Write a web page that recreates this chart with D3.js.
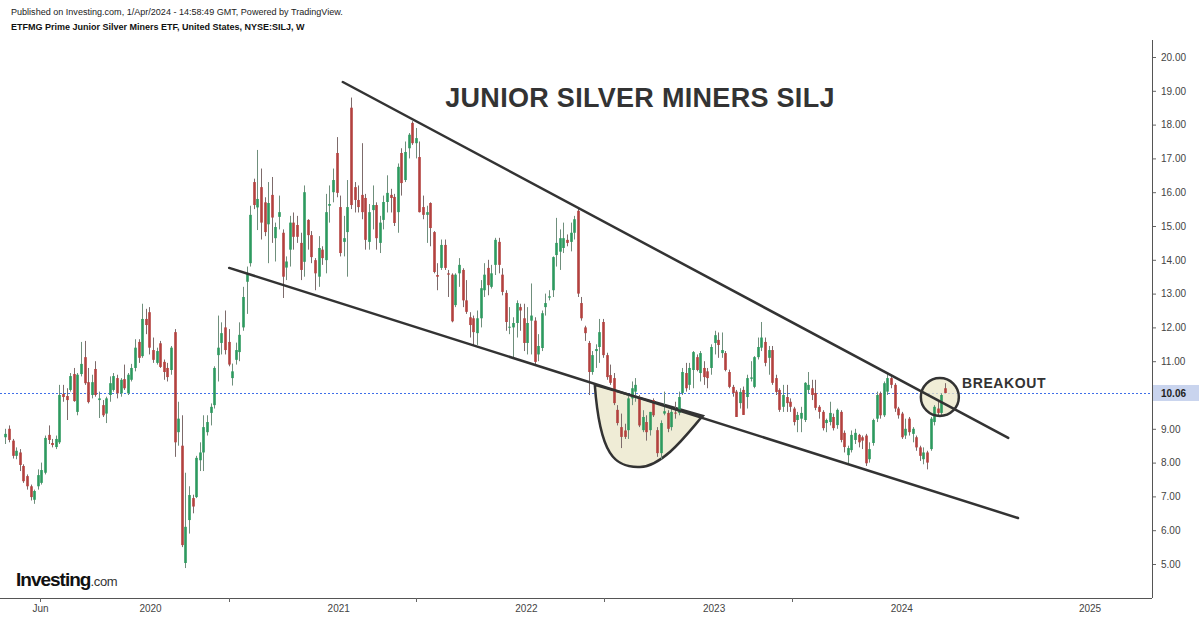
<!DOCTYPE html>
<html>
<head>
<meta charset="utf-8">
<script src="https://cdn.jsdelivr.net/npm/d3@7"></script>
<style>
  body { margin: 0; background: #fff; }
  svg { display: block; font-family: "Liberation Sans", Arial, sans-serif; }
</style>
</head>
<body>
<div id="chart"></div>
<script>
// Weekly SILJ candles, first week 2019-03-25, last week 2024-03-25
const firstWeek = new Date(Date.UTC(2019, 2, 25));
const lastWeek = new Date(Date.UTC(2024, 2, 26));

const opens = [
  8.75, 9.00, 8.65, 8.20, 8.30, 7.90, 7.60, 7.30, 6.90, 7.30,
  7.40, 7.70, 8.82, 8.58, 8.46, 8.60, 10.03, 9.97, 10.15, 10.62,
  9.50, 10.62, 11.12, 10.38, 10.00, 10.77, 9.85, 9.70, 9.45, 10.00,
  10.15, 10.50, 10.05, 10.47, 10.05, 10.45, 10.80, 11.57, 11.15, 12.25,
  12.45, 11.33, 10.95, 11.53, 10.98, 10.80, 10.74, 11.86, 8.90, 8.50,
  5.03, 6.30, 6.95, 6.98, 8.07, 8.30, 8.90, 9.47, 9.70, 11.18,
  11.54, 12.00, 11.57, 10.50, 11.04, 11.27, 12.00, 13.35, 13.90, 16.30,
  15.55, 16.15, 15.70, 15.05, 15.92, 14.64, 15.27, 14.80, 13.77, 14.30,
  15.10, 15.03, 14.50, 13.94, 15.18, 14.73, 13.99, 13.50, 14.30, 13.99,
  15.60, 16.00, 17.16, 15.56, 14.53, 14.82, 18.50, 16.15, 15.77, 15.92,
  15.83, 14.53, 15.47, 15.62, 14.50, 15.18, 15.71, 15.92, 15.86, 15.41,
  17.16, 16.36, 17.30, 18.05, 17.45, 17.04, 15.56, 15.33, 15.68, 14.82,
  13.55, 13.76, 14.44, 13.60, 13.56, 12.66, 13.60, 13.70, 12.80, 12.30,
  12.27, 11.83, 12.27, 13.10, 13.76, 13.20, 13.85, 14.53, 13.56, 13.02,
  12.00, 12.00, 12.13, 12.60, 12.27, 11.54, 12.20, 12.20, 11.20, 11.39,
  12.60, 12.88, 13.10, 14.14, 14.24, 14.35, 14.59, 14.53, 14.80, 15.45,
  12.72, 12.00, 11.54, 10.68, 11.30, 11.42, 12.16, 11.18, 10.59, 10.50,
  9.56, 9.05, 8.95, 8.96, 9.90, 10.10, 9.90, 8.96, 9.20, 8.96,
  9.85, 8.96, 8.28, 9.45, 9.47, 9.05, 9.48, 9.47, 10.06, 10.65,
  10.30, 10.74, 11.12, 10.65, 10.80, 10.70, 10.80, 11.54, 11.63, 11.24,
  11.24, 10.68, 10.24, 10.10, 9.76, 10.15, 9.94, 10.48, 10.24, 11.12,
  11.40, 11.57, 11.10, 11.33, 10.50, 10.15, 9.65, 9.94, 9.80, 9.60,
  9.26, 9.30, 9.26, 10.15, 10.20, 10.06, 9.65, 9.50, 9.17, 9.20,
  9.35, 9.11, 9.50, 8.88, 8.22, 8.37, 8.67, 8.82, 8.75, 8.80,
  8.10, 8.58, 9.30, 10.05, 9.40, 10.10, 10.50, 10.30, 9.60, 9.45,
  8.80, 9.30, 8.85, 8.75, 8.45, 8.10, 8.30, 8.40, 9.20, 9.60,
  9.47, 10.20
];
const highs = [
  9.00, 9.10, 8.70, 8.45, 8.40, 7.95, 7.65, 7.35, 7.20, 7.80,
  8.00, 8.80, 9.10, 8.70, 8.80, 10.30, 10.30, 10.20, 10.65, 10.80,
  10.65, 11.57, 11.60, 10.80, 10.60, 11.00, 10.10, 9.85, 9.95, 10.55,
  10.65, 10.60, 10.50, 10.90, 10.65, 10.92, 11.65, 11.65, 12.70, 12.55,
  12.60, 11.70, 11.40, 11.60, 11.05, 10.95, 11.45, 11.95, 9.80, 9.40,
  7.70, 7.30, 7.05, 8.20, 8.60, 9.40, 9.40, 9.75, 10.85, 12.35,
  12.15, 12.50, 11.95, 10.93, 11.55, 12.15, 13.20, 13.80, 15.60, 16.40,
  17.25, 16.70, 15.85, 16.30, 16.45, 15.10, 15.90, 14.90, 14.10, 15.30,
  15.40, 15.30, 14.80, 16.20, 15.20, 14.85, 14.05, 14.70, 14.40, 15.95,
  16.20, 16.70, 17.63, 15.90, 15.30, 16.36, 18.80, 16.30, 16.20, 17.45,
  15.95, 15.65, 16.20, 15.70, 15.30, 15.90, 16.50, 16.10, 15.95, 16.85,
  17.30, 17.50, 17.75, 18.10, 17.90, 17.50, 15.90, 15.60, 15.70, 14.85,
  13.90, 14.60, 14.60, 13.70, 13.60, 13.60, 14.05, 13.75, 13.40, 12.45,
  12.35, 12.50, 13.40, 13.90, 14.00, 13.85, 14.65, 14.65, 13.75, 13.10,
  12.60, 12.30, 12.80, 12.70, 12.70, 12.60, 13.30, 12.30, 11.80, 12.50,
  13.00, 13.10, 14.10, 15.24, 14.90, 15.10, 14.75, 15.10, 15.30, 15.55,
  12.90, 12.05, 11.60, 11.30, 11.50, 12.25, 12.25, 11.25, 10.90, 10.65,
  9.70, 9.45, 9.15, 10.00, 10.40, 10.50, 10.00, 9.55, 9.40, 9.50,
  9.90, 9.05, 9.25, 10.10, 9.55, 9.60, 9.80, 10.10, 10.80, 10.95,
  10.95, 11.30, 11.20, 11.30, 11.00, 10.80, 11.50, 11.90, 11.85, 11.85,
  11.30, 10.75, 10.30, 10.15, 10.20, 10.25, 10.60, 11.00, 11.15, 11.70,
  12.16, 11.70, 11.45, 11.45, 10.60, 10.20, 10.30, 10.30, 9.90, 9.65,
  9.50, 9.65, 10.38, 10.68, 10.45, 10.45, 9.70, 9.55, 9.30, 9.80,
  9.45, 9.60, 9.55, 8.95, 8.50, 8.95, 9.00, 8.85, 8.80, 8.85,
  8.60, 9.30, 10.10, 10.10, 10.40, 10.65, 10.60, 10.35, 9.65, 9.50,
  9.30, 9.35, 9.05, 8.80, 8.50, 8.45, 8.35, 9.35, 9.70, 9.80,
  10.05, 10.35
];
const lows = [
  8.55, 8.60, 8.12, 8.10, 7.75, 7.40, 7.20, 6.88, 6.78, 7.20,
  7.35, 7.65, 8.55, 8.45, 8.40, 8.55, 9.80, 9.26, 10.10, 9.80,
  9.40, 10.55, 10.30, 9.75, 9.90, 9.95, 9.32, 9.35, 9.17, 9.80,
  10.10, 9.90, 9.95, 10.15, 10.00, 10.40, 10.70, 10.95, 11.10, 11.80,
  11.20, 10.95, 10.90, 10.80, 10.45, 10.40, 10.60, 8.17, 8.50, 5.50,
  4.88, 5.90, 6.50, 6.95, 7.75, 7.75, 8.80, 9.10, 9.60, 10.40,
  11.20, 11.20, 10.85, 10.28, 10.90, 11.00, 11.90, 12.40, 13.80, 15.50,
  14.88, 14.60, 14.70, 13.90, 14.50, 13.95, 14.90, 12.87, 13.40, 13.80,
  14.30, 14.50, 13.40, 13.50, 14.30, 13.90, 13.10, 13.20, 13.85, 13.60,
  15.10, 15.70, 15.85, 14.10, 14.10, 13.50, 15.50, 15.40, 15.40, 15.20,
  14.30, 14.30, 14.90, 14.30, 14.20, 14.90, 15.40, 15.40, 15.00, 14.80,
  15.90, 16.30, 17.00, 17.40, 17.00, 15.40, 15.20, 14.50, 14.40, 13.60,
  13.10, 13.70, 13.70, 12.90, 12.15, 12.60, 13.20, 12.60, 12.40, 11.70,
  11.48, 11.48, 12.00, 12.90, 12.95, 13.15, 13.55, 13.60, 12.95, 11.90,
  11.80, 11.10, 11.70, 11.90, 11.30, 11.20, 11.20, 10.89, 11.00, 11.30,
  12.35, 12.80, 12.90, 13.80, 13.70, 14.20, 14.40, 14.25, 14.60, 12.90,
  12.20, 11.60, 10.00, 10.60, 10.80, 10.95, 11.10, 10.45, 10.30, 9.70,
  9.10, 8.43, 8.70, 8.70, 9.70, 9.80, 9.05, 8.90, 8.65, 8.80,
  9.35, 8.17, 8.10, 9.40, 8.90, 8.95, 9.30, 9.40, 10.00, 10.10,
  10.15, 10.20, 10.70, 10.40, 10.30, 10.20, 10.60, 11.20, 11.10, 11.10,
  10.70, 10.20, 9.95, 9.35, 9.60, 9.41, 9.60, 10.40, 10.20, 11.05,
  11.30, 10.85, 10.60, 10.30, 10.00, 9.50, 9.50, 9.50, 9.50, 9.10,
  8.90, 8.90, 9.20, 10.05, 9.85, 9.55, 9.30, 8.95, 8.90, 9.10,
  8.95, 9.00, 8.60, 8.30, 7.99, 8.30, 8.55, 8.45, 8.40, 7.90,
  8.00, 8.50, 9.20, 9.30, 9.35, 10.00, 10.20, 9.50, 9.30, 8.70,
  8.70, 8.80, 8.60, 8.35, 8.05, 7.95, 7.80, 8.35, 9.10, 9.40,
  9.40, 10.05
];
const closes = [
  8.85, 8.67, 8.20, 8.35, 7.93, 7.45, 7.30, 6.98, 7.16, 7.63,
  7.78, 8.73, 8.67, 8.52, 8.70, 10.00, 9.94, 9.85, 10.56, 9.82,
  10.60, 10.92, 10.35, 9.79, 10.38, 10.00, 9.90, 9.40, 9.90, 10.35,
  10.56, 10.05, 10.45, 10.20, 10.60, 10.80, 11.40, 11.10, 12.25, 12.07,
  11.40, 11.04, 11.30, 10.83, 10.68, 10.53, 11.40, 8.60, 9.30, 5.56,
  6.10, 7.04, 6.70, 8.14, 8.30, 9.05, 9.20, 9.65, 10.80, 11.40,
  11.83, 11.33, 10.90, 10.70, 11.33, 11.78, 12.90, 13.60, 15.33, 15.62,
  15.80, 15.10, 14.82, 15.68, 15.25, 14.97, 15.41, 13.50, 13.95, 15.10,
  14.68, 14.68, 13.70, 16.00, 14.73, 14.08, 13.60, 14.35, 14.05, 15.41,
  15.65, 16.36, 15.98, 14.20, 14.64, 15.56, 15.62, 15.77, 15.56, 15.41,
  14.59, 15.41, 15.62, 14.64, 15.10, 15.71, 15.98, 15.83, 15.09, 16.75,
  16.27, 17.19, 17.70, 17.45, 17.60, 15.41, 15.33, 15.41, 14.94, 13.64,
  13.50, 14.44, 13.76, 13.56, 12.18, 13.56, 13.85, 12.80, 12.46, 12.07,
  11.86, 12.27, 13.16, 13.56, 13.25, 13.60, 14.59, 13.85, 13.05, 12.16,
  12.02, 12.13, 12.72, 12.50, 11.54, 12.13, 12.35, 10.98, 11.45, 12.42,
  12.72, 12.92, 14.08, 14.50, 14.64, 14.64, 14.50, 14.80, 15.20, 13.00,
  12.27, 11.83, 10.68, 11.18, 11.36, 11.86, 11.18, 10.53, 10.36, 9.76,
  9.17, 8.76, 8.76, 9.90, 10.20, 10.30, 9.10, 9.35, 8.90, 9.50,
  9.40, 8.28, 9.17, 9.52, 9.00, 9.50, 9.45, 9.94, 10.68, 10.20,
  10.80, 11.27, 10.74, 11.24, 10.53, 10.50, 11.42, 11.77, 11.48, 11.33,
  10.74, 10.24, 10.06, 9.35, 10.09, 9.41, 10.50, 10.52, 11.12, 11.42,
  11.70, 10.95, 11.33, 10.36, 10.09, 9.56, 10.00, 9.76, 9.65, 9.20,
  9.41, 9.47, 10.36, 10.30, 10.00, 9.62, 9.50, 9.02, 9.26, 9.47,
  9.02, 9.56, 8.67, 8.46, 8.43, 8.82, 8.88, 8.60, 8.65, 7.98,
  8.40, 9.26, 10.00, 9.40, 10.35, 10.50, 10.30, 9.60, 9.40, 8.75,
  9.00, 8.90, 9.00, 8.45, 8.20, 8.30, 8.00, 9.30, 9.65, 9.47,
  10.00, 10.06
];

const lastPrice = 10.06;
const priceTicks = [5, 6, 7, 8, 9, 10, 11, 12, 13, 14, 15, 16, 17, 18, 19, 20];
const yearTicks = [2020, 2021, 2022, 2023, 2024, 2025];
const monthTicks = [["Jun", 2019]];
const midYearTicks = [2020, 2021, 2022, 2023];

// annotation geometry in (date, price)
const upperLine = [["2021-01-09", 19.26], ["2024-07-26", 8.73]];
const lowerLine = [["2020-06-02", 13.76], ["2024-08-14", 6.36]];
const cupPoints = [
  ["2022-05-14", 10.30], ["2022-05-24", 8.22], ["2022-06-22", 7.84], ["2022-08-10", 7.87],
  ["2022-09-27", 7.90], ["2022-11-15", 8.96], ["2022-12-10", 9.38]
];
const breakoutCircle = ["2024-03-15", 9.94];

const W = 1200, H = 617;
const axisX = 1152, axisY = 598;

const weeks = d3.utcMonday.range(firstWeek, lastWeek);
const candles = weeks.map((d, i) => ({
  date: d, o: opens[i], h: highs[i], l: lows[i], c: closes[i]
}));

const x = d3.scaleUtc()
  .domain([new Date(Date.UTC(2020, 0, 1)), new Date(Date.UTC(2025, 0, 1))])
  .range([150.5, 1090]);
const y = d3.scaleLinear().domain([5, 20]).range([564, 57]);
const pd = s => new Date(s + "T00:00:00Z");

const svg = d3.select("#chart").append("svg")
  .attr("width", W).attr("height", H);

svg.append("rect").attr("width", W).attr("height", H).attr("fill", "#fff");

// header
svg.append("text").attr("x", 11).attr("y", 15)
  .attr("font-size", "9.05px").attr("fill", "#222")
  .text("Published on Investing.com, 1/Apr/2024 - 14:58:49 GMT, Powered by TradingView.");
svg.append("text").attr("x", 11).attr("y", 30)
  .attr("font-size", "9px").attr("font-weight", "bold").attr("fill", "#111")
  .text("ETFMG Prime Junior Silver Miners ETF, United States, NYSE:SILJ, W");

// last price dotted line
svg.append("line")
  .attr("x1", 0).attr("x2", axisX)
  .attr("y1", Math.round(y(lastPrice)) + 0.5).attr("y2", Math.round(y(lastPrice)) + 0.5)
  .attr("stroke", "#3f6fe8").attr("stroke-width", 1).attr("stroke-dasharray", "2,2");

// cup and handle shape (behind candles)
const cp = cupPoints.map(p => [x(pd(p[0])), y(p[1])]);
const cupPath = d3.path();
cupPath.moveTo(cp[0][0], cp[0][1]);
cupPath.bezierCurveTo(cp[1][0], cp[1][1], cp[2][0], cp[2][1], cp[3][0], cp[3][1]);
cupPath.bezierCurveTo(cp[4][0], cp[4][1], cp[5][0], cp[5][1], cp[6][0], cp[6][1]);
cupPath.closePath();
svg.append("path").attr("d", cupPath.toString())
  .attr("fill", "#efecd6").attr("stroke", "#333").attr("stroke-width", 2.5);

// breakout circle fill
svg.append("circle")
  .attr("cx", x(pd(breakoutCircle[0]))).attr("cy", y(breakoutCircle[1])).attr("r", 19)
  .attr("fill", "#ebe7c8").attr("fill-opacity", 0.75);

// candles
const upCol = "#2d9a5f", downCol = "#b3413f";
const g = svg.append("g");
const cw = 2.6;
g.selectAll("line.wick").data(candles).enter().append("line")
  .attr("class", "wick")
  .attr("x1", d => Math.round(x(d.date)) + 0.5).attr("x2", d => Math.round(x(d.date)) + 0.5)
  .attr("y1", d => y(d.h)).attr("y2", d => y(d.l))
  .attr("stroke", d => d.c >= d.o ? "#6f8f7c" : "#7d6b6b").attr("stroke-width", 1);
g.selectAll("rect.body").data(candles).enter().append("rect")
  .attr("class", "body")
  .attr("x", d => Math.round(x(d.date)) + 0.5 - cw / 2)
  .attr("width", cw)
  .attr("y", d => y(Math.max(d.o, d.c)))
  .attr("height", d => Math.max(1, Math.abs(y(d.o) - y(d.c))))
  .attr("fill", d => d.c >= d.o ? upCol : downCol);

// trend lines
[upperLine, lowerLine].forEach(l => {
  svg.append("line")
    .attr("x1", x(pd(l[0][0]))).attr("y1", y(l[0][1]))
    .attr("x2", x(pd(l[1][0]))).attr("y2", y(l[1][1]))
    .attr("stroke", "#333").attr("stroke-width", 2.5).attr("stroke-linecap", "round");
});

// breakout circle outline
svg.append("circle")
  .attr("cx", x(pd(breakoutCircle[0]))).attr("cy", y(breakoutCircle[1])).attr("r", 19)
  .attr("fill", "none").attr("stroke", "#333").attr("stroke-width", 2.5);

// labels
svg.append("text").attr("x", 640).attr("y", 107).attr("text-anchor", "middle")
  .attr("font-size", "27px").attr("font-weight", "bold").attr("fill", "#333")
  .attr("letter-spacing", "0.3px")
  .text("JUNIOR SILVER MINERS SILJ");
svg.append("text").attr("x", 962).attr("y", 388)
  .attr("font-size", "14px").attr("font-weight", "bold").attr("fill", "#333")
  .attr("letter-spacing", "0.6px")
  .text("BREAKOUT");

// right price axis
const yAxis = svg.append("g").attr("transform", `translate(${axisX},0)`)
  .call(d3.axisRight(y).tickValues(priceTicks).tickFormat(d3.format(".2f")).tickSize(4).tickPadding(5));
yAxis.select(".domain").remove();
yAxis.selectAll("line").attr("stroke", "#666");
yAxis.selectAll("text").attr("font-size", "10px").attr("fill", "#444")
  .attr("font-family", "'Liberation Sans', Arial, sans-serif");
svg.append("line").attr("x1", axisX + 0.5).attr("x2", axisX + 0.5).attr("y1", 40).attr("y2", axisY)
  .attr("stroke", "#555");

// last price tag
const ly = y(lastPrice);
svg.append("rect").attr("x", axisX + 1).attr("y", ly - 8).attr("width", 46).attr("height", 16)
  .attr("fill", "#c9d4ee");
svg.append("text").attr("x", axisX + 9).attr("y", ly + 4)
  .attr("font-size", "10px").attr("font-weight", "bold").attr("fill", "#222").text(lastPrice.toFixed(2));

// bottom time axis
svg.append("line").attr("x1", 0).attr("x2", axisX).attr("y1", axisY + 0.5).attr("y2", axisY + 0.5)
  .attr("stroke", "#555");
const xAxis = svg.append("g").attr("transform", `translate(0,${axisY})`);
const yearDates = yearTicks.map(yr => new Date(Date.UTC(yr, 0, 1)));
xAxis.selectAll("text.year").data(yearDates).enter().append("text")
  .attr("x", d => x(d)).attr("y", 14).attr("text-anchor", "middle")
  .attr("font-size", "10px").attr("fill", "#444").text(d => d.getUTCFullYear());
xAxis.selectAll("text.month").data(monthTicks).enter().append("text")
  .attr("x", d => x(new Date(Date.UTC(d[1], 5, 1)))).attr("y", 14).attr("text-anchor", "middle")
  .attr("font-size", "10px").attr("fill", "#444").text(d => d[0]);
const tickDates = [new Date(Date.UTC(2019, 5, 1))].concat(midYearTicks.map(yr => new Date(Date.UTC(yr, 5, 1))));
xAxis.selectAll("line.tk").data(tickDates).enter().append("line")
  .attr("x1", d => Math.round(x(d)) + 0.5).attr("x2", d => Math.round(x(d)) + 0.5)
  .attr("y1", 0).attr("y2", 4).attr("stroke", "#666");

// Investing.com logo
const logo = svg.append("text").attr("x", 16).attr("y", 586);
logo.append("tspan").attr("font-size", "19px").attr("font-weight", "bold").attr("fill", "#111")
  .attr("letter-spacing", "-1px").text("Investing");
logo.append("tspan").attr("font-size", "13px").attr("fill", "#333").attr("letter-spacing", "-0.3px").text(".com");
</script>
</body>
</html>
